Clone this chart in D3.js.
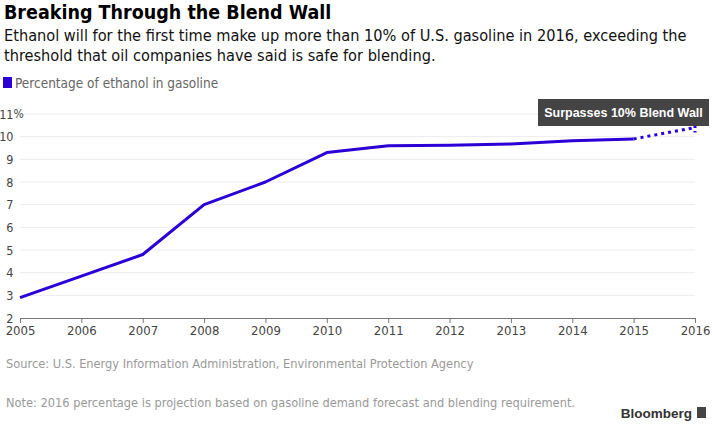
<!DOCTYPE html>
<html>
<head>
<meta charset="utf-8">
<script src="https://cdn.jsdelivr.net/npm/d3@7"></script>
<style>
  body { margin: 0; background: #fff; }
  svg { display: block; }
  .narrow { font-family: "Liberation Sans Narrow", "Arial Narrow", "DejaVu Sans Condensed", sans-serif; }
</style>
</head>
<body>
<div id="chart"></div>
<script>
// data
const years = [2005, 2006, 2007, 2008, 2009, 2010, 2011, 2012, 2013, 2014, 2015, 2016];
const ethanolPct = [2.9, 3.85, 4.8, 7.0, 8.0, 9.3, 9.6, 9.62, 9.68, 9.82, 9.9, 10.4];
const yTicks = [2, 3, 4, 5, 6, 7, 8, 9, 10, 11];
const projectedFrom = 2015;

const title = "Breaking Through the Blend Wall";
const subtitle = [
  "Ethanol will for the first time make up more than 10% of U.S. gasoline in 2016, exceeding the",
  "threshold that oil companies have said is safe for blending."
];
const legendLabel = "Percentage of ethanol in gasoline";
const annotation = "Surpasses 10% Blend Wall";
const source = "Source: U.S. Energy Information Administration, Environmental Protection Agency";
const note = "Note: 2016 percentage is projection based on gasoline demand forecast and blending requirement.";

const W = 712, H = 426;
const lineColor = "#2a00d6";
const margin = { top: 114, right: 17, bottom: 108, left: 20 };

const svg = d3.select("#chart").append("svg")
  .attr("width", W).attr("height", H);

// header
svg.append("text").attr("class", "narrow")
  .attr("x", 4).attr("y", 19)
  .attr("font-size", 19.5).attr("font-weight", "bold").attr("fill", "#000")
  .text(title);

svg.append("g").selectAll("text").data(subtitle).join("text")
  .attr("class", "narrow")
  .attr("x", 4).attr("y", (d, i) => 41 + i * 20)
  .attr("font-size", 16.2).attr("fill", "#111")
  .text(d => d);

// legend
svg.append("rect").attr("x", 3).attr("y", 77).attr("width", 9).attr("height", 11)
  .attr("fill", lineColor);
svg.append("text").attr("class", "narrow")
  .attr("x", 15).attr("y", 88)
  .attr("font-size", 13.5).attr("fill", "#666")
  .text(legendLabel);

// scales
const x = d3.scaleLinear()
  .domain([2005, 2016])
  .range([margin.left, W - margin.right]);
const y = d3.scaleLinear()
  .domain([2, 11])
  .range([H - margin.bottom, margin.top]);

// gridlines
svg.append("g").selectAll("line").data(yTicks.filter(d => d > 2)).join("line")
  .attr("x1", x(2005)).attr("x2", x(2016))
  .attr("y1", d => y(d)).attr("y2", d => y(d))
  .attr("stroke", "#ececec").attr("stroke-width", 1);

// y labels (numbers right-aligned, % hangs past them)
const yLab = svg.append("g");
yLab.selectAll("text.num").data(yTicks).join("text")
  .attr("class", "num narrow")
  .attr("x", 13.5).attr("y", d => y(d))
  .attr("dy", "0.36em")
  .attr("text-anchor", "end")
  .attr("font-size", 12.5).attr("fill", "#444")
  .text(d => d);
yLab.append("text").attr("class", "narrow")
  .attr("x", 13.5).attr("y", y(11)).attr("dy", "0.36em")
  .attr("font-size", 12).attr("fill", "#444")
  .text("%");

// x axis
const xAxis = svg.append("g")
  .attr("transform", `translate(0,${y(2)})`)
  .call(d3.axisBottom(x).tickValues(years).tickFormat(d3.format("d")).tickSize(5).tickPadding(3));
xAxis.select(".domain").attr("stroke", "#777");
xAxis.selectAll(".tick line").attr("stroke", "#777");
xAxis.selectAll(".tick text")
  .attr("class", "narrow")
  .attr("font-size", 13).attr("fill", "#444")
  .attr("font-family", null);

// line: actual + projected
const pts = years.map((yr, i) => ({ yr, v: ethanolPct[i] }));
const line = d3.line().x(d => x(d.yr)).y(d => y(d.v));

svg.append("path")
  .datum(pts.filter(d => d.yr <= projectedFrom))
  .attr("d", line)
  .attr("fill", "none").attr("stroke", lineColor)
  .attr("stroke-width", 3).attr("stroke-linejoin", "round");

svg.append("path")
  .datum(pts.filter(d => d.yr >= projectedFrom))
  .attr("d", line)
  .attr("fill", "none").attr("stroke", lineColor)
  .attr("stroke-width", 3).attr("stroke-dasharray", "3,4");

// annotation
const last = pts[pts.length - 1];
const ax = x(last.yr), ay = y(last.v);
const boxW = 171, boxH = 27;
const bx = W - 3 - boxW, by = 99;
svg.append("line")
  .attr("x1", ax).attr("x2", ax)
  .attr("y1", by + boxH).attr("y2", ay + 5)
  .attr("stroke", lineColor).attr("stroke-width", 3)
  .attr("stroke-dasharray", "2,3");
svg.append("rect")
  .attr("x", bx).attr("y", by).attr("width", boxW).attr("height", boxH)
  .attr("fill", "#444");
svg.append("text")
  .attr("x", bx + boxW / 2).attr("y", by + boxH / 2).attr("dy", "0.36em")
  .attr("text-anchor", "middle")
  .attr("font-family", "Liberation Sans, Arial, sans-serif")
  .attr("font-size", 12.5).attr("font-weight", "bold").attr("fill", "#fff")
  .text(annotation);

// footer
svg.append("text").attr("class", "narrow")
  .attr("x", 6).attr("y", 368)
  .attr("font-size", 12.7).attr("fill", "#999")
  .text(source);
svg.append("text").attr("class", "narrow")
  .attr("x", 6).attr("y", 407)
  .attr("font-size", 12.7).attr("fill", "#999")
  .text(note);

// Bloomberg mark
svg.append("text")
  .attr("x", 692).attr("y", 418)
  .attr("text-anchor", "end")
  .attr("font-family", "Liberation Sans, Arial, sans-serif")
  .attr("font-size", 13.5).attr("font-weight", "bold").attr("fill", "#333")
  .text("Bloomberg");
svg.append("rect").attr("x", 697).attr("y", 407).attr("width", 9).attr("height", 11)
  .attr("fill", "#444");
</script>
</body>
</html>
